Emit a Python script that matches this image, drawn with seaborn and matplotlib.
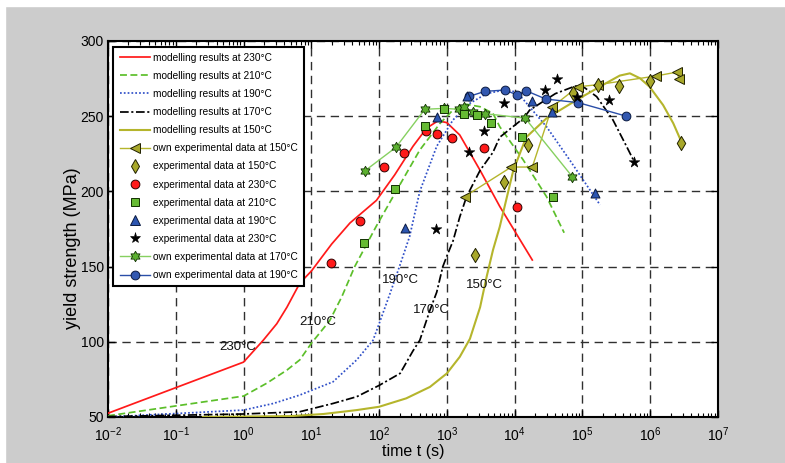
import numpy as np
import matplotlib
matplotlib.use("Agg")
import matplotlib.pyplot as plt
import seaborn as sns
from matplotlib.lines import Line2D
from matplotlib.path import Path
from matplotlib.patches import Rectangle
from matplotlib.ticker import LogLocator, FixedLocator, NullFormatter

plt.rcParams['font.family'] = ['Liberation Sans', 'DejaVu Sans']
plt.rcParams['mathtext.fontset'] = 'custom'
plt.rcParams['mathtext.rm'] = 'Liberation Sans'
plt.rcParams['mathtext.it'] = 'Liberation Sans'
plt.rcParams['mathtext.bf'] = 'Liberation Sans'

# ---------------- data (time given as log10 of seconds) ----------------
m230_logt = [-2, 0, 0.29, 0.49, 0.64, 0.83, 1.0, 1.15, 1.3, 1.57, 1.96, 2.23, 2.5, 2.7, 2.87, 3.0, 3.19, 3.49, 3.78, 4.26]
m230_y = [52.5, 86.5, 101, 112, 123, 139, 147, 156, 165, 179, 194, 211, 230, 242, 247, 245.7, 237.5, 214, 190, 154.4]

m210_logt = [-2, 0, 0.34, 0.64, 0.83, 1.0, 1.27, 1.45, 1.64, 1.96, 2.25, 2.6, 2.9, 3.09, 3.29, 3.49, 3.68, 3.78, 4.125, 4.47, 4.73]
m210_y = [50.8, 63.9, 72.4, 81.2, 88, 99, 114, 130, 150, 177, 200, 227.5, 245.3, 254.1, 257.9, 256.3, 251.9, 243, 221, 196.5, 172.5]

m190_logt = [-2, 0, 0.44, 0.83, 1.32, 1.67, 1.91, 2.0, 2.16, 2.3, 2.45, 2.6, 2.85, 3.09, 3.34, 3.585, 3.8, 4.03, 4.47, 4.81, 5.11, 5.26]
m190_y = [50, 54.6, 59, 64.6, 73.4, 88, 101, 112, 132, 150, 170, 200, 230, 247.5, 258.6, 265, 267, 266.3, 243, 221, 201, 191]

m170_logt = [-2, 0, 0.83, 1.32, 1.67, 2.0, 2.31, 2.5, 2.6, 2.75, 2.85, 2.94, 3.0, 3.09, 3.19, 3.29, 3.49, 3.68, 3.78, 4.14, 4.22, 4.6, 4.89, 5.0, 5.21, 5.45, 5.65, 5.75]
m170_y = [50.3, 52, 53.5, 59, 63.5, 71, 79, 94, 101, 121, 133, 150, 157, 167, 183, 196.5, 214, 226, 236, 249, 254, 265, 270, 270, 263, 247.5, 230, 221]

m150_logt = [-0.6, 0.7, 1.18, 1.67, 2.0, 2.4, 2.75, 3.0, 3.19, 3.34, 3.49, 3.585, 3.68, 3.78, 3.98, 4.17, 4.47, 4.96, 5.35, 5.55, 5.7, 5.85, 5.99, 6.19, 6.34, 6.45]
m150_y = [50, 50.6, 52, 54.6, 56.8, 62.4, 70, 79, 90, 102, 123, 143, 161, 176.5, 214, 236, 248.6, 262, 272, 277, 278.5, 275.2, 269.6, 257.4, 245.3, 234]

own150_logt = [3.26, 3.95, 4.26, 4.55, 4.93, 5.23, 6.08, 6.39, 6.43]
own150_y = [196.5, 216.2, 216.2, 256, 269.5, 271, 276.7, 279.3, 274.6]

exp150_logt = [3.42, 3.84, 4.2, 4.86, 5.23, 5.54, 5.99, 6.45]
exp150_y = [157.5, 206, 230.7, 265.3, 270.6, 269.9, 273.2, 232]

exp230_logt = [1.29, 1.72, 2.07, 2.37, 2.69, 2.86, 3.08, 3.55, 4.03]
exp230_y = [152.6, 180, 216, 225.6, 240, 238.3, 235.7, 228.8, 189.8]

exp210_logt = [1.78, 2.24, 2.67, 2.955, 3.25, 3.44, 3.655, 4.115, 4.56]
exp210_y = [165.7, 201.5, 243.6, 254.6, 251.2, 250.5, 245.8, 236, 196.3]

exp190_logt = [2.385, 2.85, 3.29, 4.25, 4.55, 5.19]
exp190_y = [175.9, 249.8, 263.4, 259.8, 252.7, 199]

exp230s_logt = [2.846, 3.325, 3.55, 3.848, 4.443, 4.63, 4.92, 5.39, 5.76]
exp230s_y = [175.1, 226.4, 240, 259, 267.3, 274.5, 262.5, 260.5, 219.3]

own170_logt = [1.785, 2.248, 2.675, 2.955, 3.177, 3.25, 3.38, 3.56, 4.155, 4.85]
own170_y = [213.5, 229.3, 254.6, 255.2, 254.6, 256.3, 252.6, 251.7, 248.7, 209.8]

own190_logt = [3.33, 3.56, 3.855, 4.04, 4.165, 4.46, 4.94, 5.64]
own190_y = [263.2, 266.5, 267.4, 264.1, 267, 261.4, 259, 250.1]

labels = [
    "modelling results at 230°C", "modelling results at 210°C", "modelling results at 190°C",
    "modelling results at 170°C", "modelling results at 150°C", "own experimental data at 150°C",
    "experimental data at 150°C", "experimental data at 230°C", "experimental data at 210°C",
    "experimental data at 190°C", "experimental data at 230°C", "own experimental data at 170°C",
    "own experimental data at 190°C",
]
annot_text = ["230°C", "210°C", "190°C", "170°C", "150°C"]
annot_logt = [-0.08, 1.1, 2.31, 2.77, 3.55]
annot_y = [96.5, 113, 141, 121, 137.7]


def T(v):
    return 10.0 ** np.asarray(v, dtype=float)


# ---------------- styles ----------------
RED = '#ff1a1a'
GREEN = '#5cbf2a'
BLUE = '#3050c8'
OLIVE = '#b5b52c'
OLIVE_M = '#a8a82a'
LGREEN = '#86d060'
STARG = '#5cb030'
NAVY = '#2a4ea8'
CIRB = '#3358b0'
SQG = '#66bb33'
TRIB = '#2c55b0'

ang = np.deg2rad(90 + 30 * np.arange(12))
rad = np.where(np.arange(12) % 2 == 0, 1.0, 0.58)
hexv = np.column_stack([rad * np.cos(ang), rad * np.sin(ang)])
hexv = np.vstack([hexv, hexv[:1]])
HEX = Path(hexv, closed=True)

fig = plt.figure(figsize=(7.85, 4.63), dpi=100, facecolor='#cccccc')
fig.patches.append(Rectangle((0, 1 - 6 / 463), 1, 6 / 463, transform=fig.transFigure, color='white', zorder=-5))
fig.patches.append(Rectangle((0, 0), 5 / 785, 1, transform=fig.transFigure, color='white', zorder=-5))
ax = fig.add_axes([108 / 785, 1 - 417 / 463, 610 / 785, 376 / 463])
ax.set_facecolor('white')

lw = 1.25
sns.lineplot(x=T(m230_logt), y=m230_y, sort=False, estimator=None, color=RED, linewidth=lw, linestyle='-', ax=ax, zorder=3)
sns.lineplot(x=T(m210_logt), y=m210_y, sort=False, estimator=None, color=GREEN, linewidth=lw, linestyle=(0, (4, 2)), ax=ax, zorder=3)
sns.lineplot(x=T(m190_logt), y=m190_y, sort=False, estimator=None, color=BLUE, linewidth=lw, linestyle=(0, (1, 1.2)), ax=ax, zorder=3)
sns.lineplot(x=T(m170_logt), y=m170_y, sort=False, estimator=None, color='k', linewidth=lw, linestyle=(0, (5, 1.5, 1.2, 1.5)), ax=ax, zorder=3)
sns.lineplot(x=T(m150_logt), y=m150_y, sort=False, estimator=None, color=OLIVE, linewidth=1.5, linestyle='-', ax=ax, zorder=3)

MS_TRI, MS_HEX, MS_CIR = 6.5, 7.5, 6.3
sns.lineplot(x=T(own150_logt), y=own150_y, sort=False, estimator=None, color=OLIVE, linewidth=1.0,
             marker='<', markersize=MS_TRI, markerfacecolor=OLIVE_M, markeredgecolor='#202000', markeredgewidth=0.7, ax=ax, zorder=5)
sns.lineplot(x=T(own170_logt), y=own170_y, sort=False, estimator=None, color=LGREEN, linewidth=1.0,
             marker=HEX, markersize=MS_HEX, markerfacecolor=STARG, markeredgecolor='#103000', markeredgewidth=0.6, ax=ax, zorder=5)
sns.lineplot(x=T(own190_logt), y=own190_y, sort=False, estimator=None, color=NAVY, linewidth=1.0,
             marker='o', markersize=MS_CIR, markerfacecolor=CIRB, markeredgecolor='#0a1a40', markeredgewidth=0.7, ax=ax, zorder=5)

sns.scatterplot(x=T(exp150_logt), y=exp150_y, marker='d', s=52, color=OLIVE_M, edgecolor='#202000', linewidth=0.7, ax=ax, zorder=6)
sns.scatterplot(x=T(exp230_logt), y=exp230_y, marker='o', s=40, color=RED, edgecolor='#300000', linewidth=0.7, ax=ax, zorder=6)
sns.scatterplot(x=T(exp210_logt), y=exp210_y, marker='s', s=30, color=SQG, edgecolor='#103000', linewidth=0.7, ax=ax, zorder=6)
sns.scatterplot(x=T(exp190_logt), y=exp190_y, marker='^', s=42, color=TRIB, edgecolor='#0a1a40', linewidth=0.7, ax=ax, zorder=6)
sns.scatterplot(x=T(exp230s_logt), y=exp230s_y, marker='*', s=65, color='k', edgecolor='k', linewidth=0.4, ax=ax, zorder=6)

for txt, lx, yy in zip(annot_text, annot_logt, annot_y):
    ax.text(10.0 ** lx, yy, txt, ha='center', va='center', fontsize=9.5, color='#111111', zorder=7)

ax.set_xscale('log')
ax.set_xlim(1e-2, 1e7)
ax.set_ylim(50, 300)
ax.xaxis.set_major_locator(LogLocator(base=10, numticks=20))
ax.xaxis.set_minor_locator(LogLocator(base=10, subs=np.arange(2, 10), numticks=20))
ax.xaxis.set_minor_formatter(NullFormatter())
ax.yaxis.set_major_locator(FixedLocator([50, 100, 150, 200, 250, 300]))
ax.grid(True, which='major', color='#303030', linestyle=(0, (6, 4)), linewidth=1.0, zorder=1)
ax.set_axisbelow(True)
ax.tick_params(which='both', direction='in', top=True, right=True, labelsize=10, colors='k')
ax.tick_params(which='major', length=5, width=1.0)
ax.tick_params(which='minor', length=3, width=0.8)
ax.tick_params(axis='y', pad=3)
ax.tick_params(axis='x', pad=6)
for sp in ax.spines.values():
    sp.set_linewidth(1.5)
    sp.set_color('k')

ax.set_xlabel('time t (s)', fontsize=11.5, labelpad=0)
ax.set_ylabel('yield strength (MPa)', fontsize=13)
ax.yaxis.set_label_coords(-0.045, 0.45)

handles = [
    Line2D([], [], color=RED, lw=lw, ls='-'),
    Line2D([], [], color=GREEN, lw=lw, ls=(0, (4, 2))),
    Line2D([], [], color=BLUE, lw=lw, ls=(0, (1, 1.2))),
    Line2D([], [], color='k', lw=lw, ls=(0, (5, 1.5, 1.2, 1.5))),
    Line2D([], [], color=OLIVE, lw=1.5, ls='-'),
    Line2D([], [], color=OLIVE, lw=1.0, marker='<', ms=MS_TRI, mfc=OLIVE_M, mec='#202000', mew=0.7),
    Line2D([], [], ls='none', marker='d', ms=7.2, mfc=OLIVE_M, mec='#202000', mew=0.7),
    Line2D([], [], ls='none', marker='o', ms=6.3, mfc=RED, mec='#300000', mew=0.7),
    Line2D([], [], ls='none', marker='s', ms=5.5, mfc=SQG, mec='#103000', mew=0.7),
    Line2D([], [], ls='none', marker='^', ms=6.5, mfc=TRIB, mec='#0a1a40', mew=0.7),
    Line2D([], [], ls='none', marker='*', ms=8, mfc='k', mec='k', mew=0.4),
    Line2D([], [], color=LGREEN, lw=1.0, marker=HEX, ms=MS_HEX, mfc=STARG, mec='#103000', mew=0.6),
    Line2D([], [], color=NAVY, lw=1.0, marker='o', ms=MS_CIR, mfc=CIRB, mec='#0a1a40', mew=0.7),
]
leg = ax.legend(handles, labels, loc='upper left', bbox_to_anchor=(0.009, 0.985), borderaxespad=0,
                fontsize=7.3, labelspacing=0.8, handlelength=3.0, handletextpad=0.3, borderpad=0.6,
                frameon=True, fancybox=False, edgecolor='k', framealpha=1, numpoints=1)
leg.get_frame().set_linewidth(1.5)
leg.set_zorder(10)

fig.savefig('out.png', dpi=100, facecolor=fig.get_facecolor())
